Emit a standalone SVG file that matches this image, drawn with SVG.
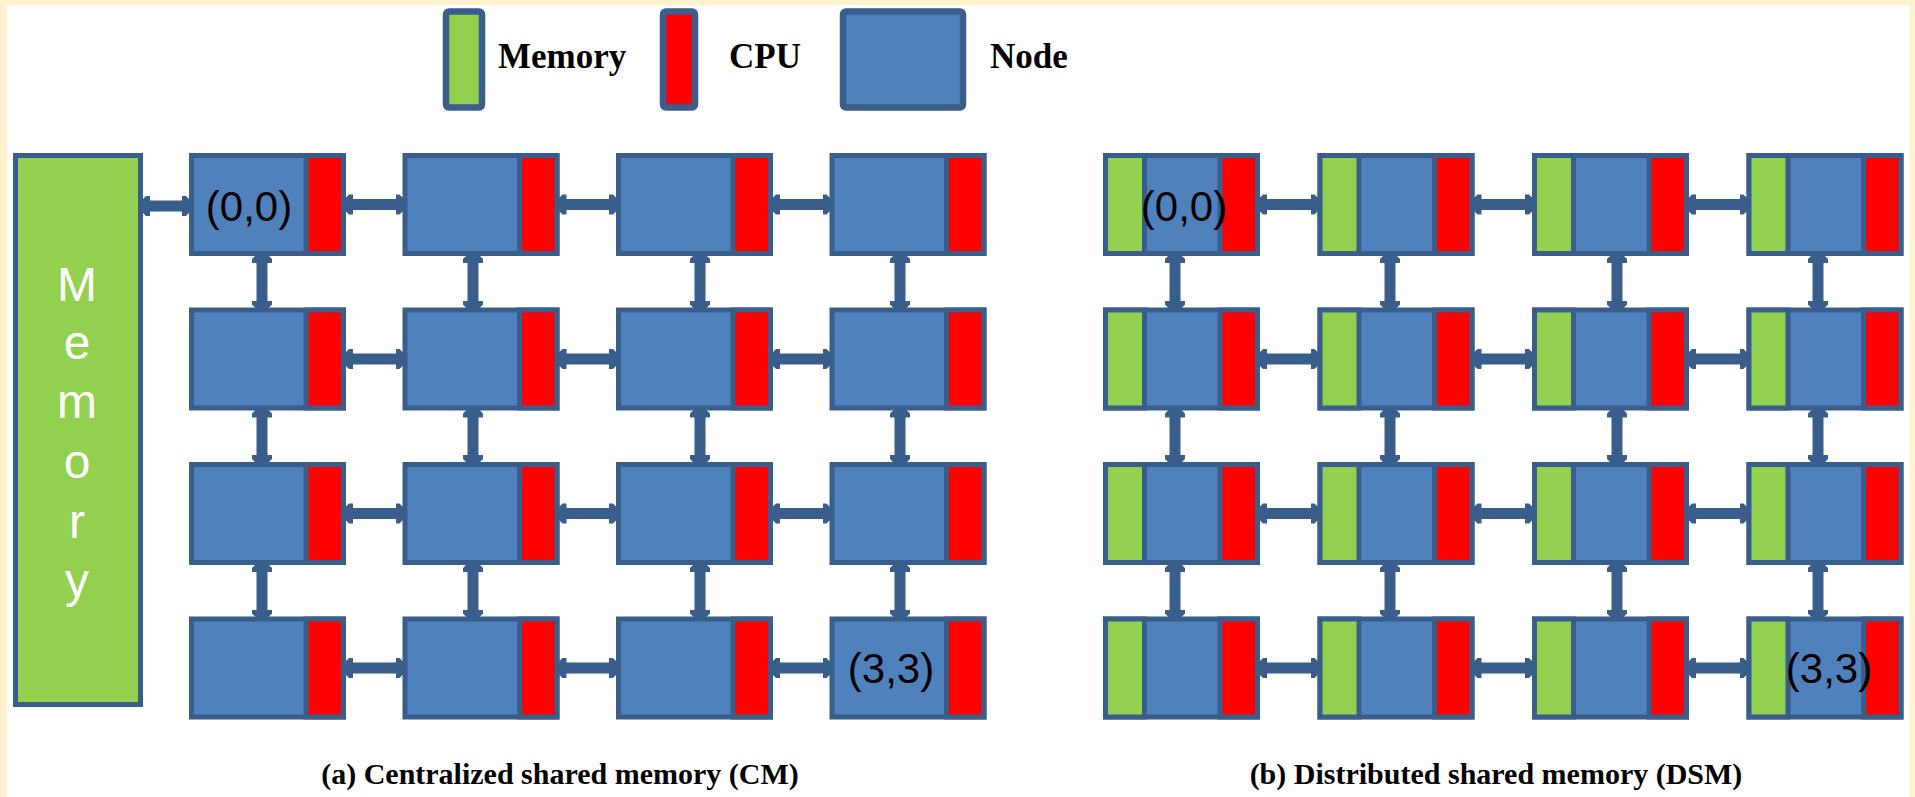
<svg xmlns="http://www.w3.org/2000/svg" width="1915" height="797" viewBox="0 0 1915 797">
<style>
.nd{fill:#4F81BD;stroke:#395E8C;stroke-width:5}
.cpu{fill:#FF0000;stroke:#395E8C;stroke-width:5}
.mem{fill:#92D050;stroke:#395E8C;stroke-width:5}
.lg{stroke-width:6.5}
.cn{stroke:#395E8C;stroke-width:11;fill:none;marker-start:url(#ah);marker-end:url(#ah)}
.lab{font-family:"Liberation Sans",Arial,sans-serif;font-size:42px;fill:#000;text-anchor:middle}
.leg{font-family:"Liberation Serif","Times New Roman",serif;font-size:35px;font-weight:bold;fill:#000}
.ttl{font-family:"Liberation Serif","Times New Roman",serif;font-size:30px;font-weight:bold;fill:#000;text-anchor:middle}
.ml{font-family:"Liberation Sans",Arial,sans-serif;font-size:48px;fill:#fff;text-anchor:middle}
</style>
<defs>
<marker id="ah" markerUnits="userSpaceOnUse" viewBox="0 0 10 24" refX="9" refY="12" markerWidth="10" markerHeight="24" orient="auto-start-reverse">
<path d="M0,2 L4,2 L10,8 L10,16 L4,22 L0,22 Z" fill="#395E8C"/>
</marker>
</defs>
<rect x="0" y="0" width="1915" height="797" fill="#FFF2CC"/>
<rect x="7" y="5" width="1903" height="792" fill="#FFFFFF"/>

<g id="legend">
<rect class="mem lg" x="446" y="11.5" width="36" height="96" rx="3"/>
<text class="leg" x="498" y="68">Memory</text>
<rect class="cpu lg" x="663" y="11.5" width="32" height="96" rx="3"/>
<text class="leg" x="729" y="68">CPU</text>
<rect class="nd lg" x="843" y="11.5" width="120" height="96" rx="3"/>
<text class="leg" x="990" y="68">Node</text>
</g>

<g id="connectors">
<line class="cn" x1="141" y1="206" x2="191" y2="206"/>
<!-- CM horizontal -->
<line class="cn" x1="344" y1="204.5" x2="404.5" y2="204.5"/>
<line class="cn" x1="557.5" y1="204.5" x2="618" y2="204.5"/>
<line class="cn" x1="771" y1="204.5" x2="831.5" y2="204.5"/>
<line class="cn" x1="344" y1="359" x2="404.5" y2="359"/>
<line class="cn" x1="557.5" y1="359" x2="618" y2="359"/>
<line class="cn" x1="771" y1="359" x2="831.5" y2="359"/>
<line class="cn" x1="344" y1="513.5" x2="404.5" y2="513.5"/>
<line class="cn" x1="557.5" y1="513.5" x2="618" y2="513.5"/>
<line class="cn" x1="771" y1="513.5" x2="831.5" y2="513.5"/>
<line class="cn" x1="344" y1="668" x2="404.5" y2="668"/>
<line class="cn" x1="557.5" y1="668" x2="618" y2="668"/>
<line class="cn" x1="771" y1="668" x2="831.5" y2="668"/>
<!-- CM vertical -->
<line class="cn" x1="262" y1="254" x2="262" y2="309.5"/>
<line class="cn" x1="262" y1="408.5" x2="262" y2="464"/>
<line class="cn" x1="262" y1="563" x2="262" y2="618.5"/>
<line class="cn" x1="473" y1="254" x2="473" y2="309.5"/>
<line class="cn" x1="473" y1="408.5" x2="473" y2="464"/>
<line class="cn" x1="473" y1="563" x2="473" y2="618.5"/>
<line class="cn" x1="700" y1="254" x2="700" y2="309.5"/>
<line class="cn" x1="700" y1="408.5" x2="700" y2="464"/>
<line class="cn" x1="700" y1="563" x2="700" y2="618.5"/>
<line class="cn" x1="900" y1="254" x2="900" y2="309.5"/>
<line class="cn" x1="900" y1="408.5" x2="900" y2="464"/>
<line class="cn" x1="900" y1="563" x2="900" y2="618.5"/>
<!-- DSM horizontal -->
<line class="cn" x1="1258" y1="204.5" x2="1319.5" y2="204.5"/>
<line class="cn" x1="1472.5" y1="204.5" x2="1534" y2="204.5"/>
<line class="cn" x1="1687" y1="204.5" x2="1748.5" y2="204.5"/>
<line class="cn" x1="1258" y1="359" x2="1319.5" y2="359"/>
<line class="cn" x1="1472.5" y1="359" x2="1534" y2="359"/>
<line class="cn" x1="1687" y1="359" x2="1748.5" y2="359"/>
<line class="cn" x1="1258" y1="513.5" x2="1319.5" y2="513.5"/>
<line class="cn" x1="1472.5" y1="513.5" x2="1534" y2="513.5"/>
<line class="cn" x1="1687" y1="513.5" x2="1748.5" y2="513.5"/>
<line class="cn" x1="1258" y1="668" x2="1319.5" y2="668"/>
<line class="cn" x1="1472.5" y1="668" x2="1534" y2="668"/>
<line class="cn" x1="1687" y1="668" x2="1748.5" y2="668"/>
<!-- DSM vertical -->
<line class="cn" x1="1175" y1="254" x2="1175" y2="309.5"/>
<line class="cn" x1="1175" y1="408.5" x2="1175" y2="464"/>
<line class="cn" x1="1175" y1="563" x2="1175" y2="618.5"/>
<line class="cn" x1="1390" y1="254" x2="1390" y2="309.5"/>
<line class="cn" x1="1390" y1="408.5" x2="1390" y2="464"/>
<line class="cn" x1="1390" y1="563" x2="1390" y2="618.5"/>
<line class="cn" x1="1617" y1="254" x2="1617" y2="309.5"/>
<line class="cn" x1="1617" y1="408.5" x2="1617" y2="464"/>
<line class="cn" x1="1617" y1="563" x2="1617" y2="618.5"/>
<line class="cn" x1="1818" y1="254" x2="1818" y2="309.5"/>
<line class="cn" x1="1818" y1="408.5" x2="1818" y2="464"/>
<line class="cn" x1="1818" y1="563" x2="1818" y2="618.5"/>
</g>

<g id="central-memory">
<rect class="mem" x="15.5" y="155.5" width="125" height="549"/>
<text class="ml" x="77" y="301">M</text>
<text class="ml" x="77" y="359">e</text>
<text class="ml" x="77" y="418">m</text>
<text class="ml" x="77" y="478">o</text>
<text class="ml" x="77" y="538">r</text>
<text class="ml" x="77" y="597">y</text>
</g>

<!-- CM nodes -->
<g id="cm-0-0"><rect class="nd" x="191.5" y="155.5" width="152" height="98"/><rect class="cpu" x="306" y="155.5" width="37.5" height="98"/><text class="lab" x="249" y="221">(0,0)</text></g>
<g id="cm-0-1"><rect class="nd" x="405" y="155.5" width="152" height="98"/><rect class="cpu" x="519.5" y="155.5" width="37.5" height="98"/></g>
<g id="cm-0-2"><rect class="nd" x="618.5" y="155.5" width="152" height="98"/><rect class="cpu" x="733" y="155.5" width="37.5" height="98"/></g>
<g id="cm-0-3"><rect class="nd" x="832" y="155.5" width="152" height="98"/><rect class="cpu" x="946.5" y="155.5" width="37.5" height="98"/></g>

<g id="cm-1-0"><rect class="nd" x="191.5" y="310" width="152" height="98"/><rect class="cpu" x="306" y="310" width="37.5" height="98"/></g>
<g id="cm-1-1"><rect class="nd" x="405" y="310" width="152" height="98"/><rect class="cpu" x="519.5" y="310" width="37.5" height="98"/></g>
<g id="cm-1-2"><rect class="nd" x="618.5" y="310" width="152" height="98"/><rect class="cpu" x="733" y="310" width="37.5" height="98"/></g>
<g id="cm-1-3"><rect class="nd" x="832" y="310" width="152" height="98"/><rect class="cpu" x="946.5" y="310" width="37.5" height="98"/></g>

<g id="cm-2-0"><rect class="nd" x="191.5" y="464.5" width="152" height="98"/><rect class="cpu" x="306" y="464.5" width="37.5" height="98"/></g>
<g id="cm-2-1"><rect class="nd" x="405" y="464.5" width="152" height="98"/><rect class="cpu" x="519.5" y="464.5" width="37.5" height="98"/></g>
<g id="cm-2-2"><rect class="nd" x="618.5" y="464.5" width="152" height="98"/><rect class="cpu" x="733" y="464.5" width="37.5" height="98"/></g>
<g id="cm-2-3"><rect class="nd" x="832" y="464.5" width="152" height="98"/><rect class="cpu" x="946.5" y="464.5" width="37.5" height="98"/></g>

<g id="cm-3-0"><rect class="nd" x="191.5" y="619" width="152" height="98"/><rect class="cpu" x="306" y="619" width="37.5" height="98"/></g>
<g id="cm-3-1"><rect class="nd" x="405" y="619" width="152" height="98"/><rect class="cpu" x="519.5" y="619" width="37.5" height="98"/></g>
<g id="cm-3-2"><rect class="nd" x="618.5" y="619" width="152" height="98"/><rect class="cpu" x="733" y="619" width="37.5" height="98"/></g>
<g id="cm-3-3"><rect class="nd" x="832" y="619" width="152" height="98"/><rect class="cpu" x="946.5" y="619" width="37.5" height="98"/><text class="lab" x="891" y="683">(3,3)</text></g>

<!-- DSM nodes -->
<g id="dsm-0-0"><rect class="nd" x="1105.5" y="155.5" width="152" height="98"/><rect class="mem" x="1105.5" y="155.5" width="39" height="98"/><rect class="cpu" x="1220" y="155.5" width="37.5" height="98"/><text class="lab" x="1184" y="221">(0,0)</text></g>
<g id="dsm-0-1"><rect class="nd" x="1320" y="155.5" width="152" height="98"/><rect class="mem" x="1320" y="155.5" width="39" height="98"/><rect class="cpu" x="1434.5" y="155.5" width="37.5" height="98"/></g>
<g id="dsm-0-2"><rect class="nd" x="1534.5" y="155.5" width="152" height="98"/><rect class="mem" x="1534.5" y="155.5" width="39" height="98"/><rect class="cpu" x="1649" y="155.5" width="37.5" height="98"/></g>
<g id="dsm-0-3"><rect class="nd" x="1749" y="155.5" width="152" height="98"/><rect class="mem" x="1749" y="155.5" width="39" height="98"/><rect class="cpu" x="1863.5" y="155.5" width="37.5" height="98"/></g>

<g id="dsm-1-0"><rect class="nd" x="1105.5" y="310" width="152" height="98"/><rect class="mem" x="1105.5" y="310" width="39" height="98"/><rect class="cpu" x="1220" y="310" width="37.5" height="98"/></g>
<g id="dsm-1-1"><rect class="nd" x="1320" y="310" width="152" height="98"/><rect class="mem" x="1320" y="310" width="39" height="98"/><rect class="cpu" x="1434.5" y="310" width="37.5" height="98"/></g>
<g id="dsm-1-2"><rect class="nd" x="1534.5" y="310" width="152" height="98"/><rect class="mem" x="1534.5" y="310" width="39" height="98"/><rect class="cpu" x="1649" y="310" width="37.5" height="98"/></g>
<g id="dsm-1-3"><rect class="nd" x="1749" y="310" width="152" height="98"/><rect class="mem" x="1749" y="310" width="39" height="98"/><rect class="cpu" x="1863.5" y="310" width="37.5" height="98"/></g>

<g id="dsm-2-0"><rect class="nd" x="1105.5" y="464.5" width="152" height="98"/><rect class="mem" x="1105.5" y="464.5" width="39" height="98"/><rect class="cpu" x="1220" y="464.5" width="37.5" height="98"/></g>
<g id="dsm-2-1"><rect class="nd" x="1320" y="464.5" width="152" height="98"/><rect class="mem" x="1320" y="464.5" width="39" height="98"/><rect class="cpu" x="1434.5" y="464.5" width="37.5" height="98"/></g>
<g id="dsm-2-2"><rect class="nd" x="1534.5" y="464.5" width="152" height="98"/><rect class="mem" x="1534.5" y="464.5" width="39" height="98"/><rect class="cpu" x="1649" y="464.5" width="37.5" height="98"/></g>
<g id="dsm-2-3"><rect class="nd" x="1749" y="464.5" width="152" height="98"/><rect class="mem" x="1749" y="464.5" width="39" height="98"/><rect class="cpu" x="1863.5" y="464.5" width="37.5" height="98"/></g>

<g id="dsm-3-0"><rect class="nd" x="1105.5" y="619" width="152" height="98"/><rect class="mem" x="1105.5" y="619" width="39" height="98"/><rect class="cpu" x="1220" y="619" width="37.5" height="98"/></g>
<g id="dsm-3-1"><rect class="nd" x="1320" y="619" width="152" height="98"/><rect class="mem" x="1320" y="619" width="39" height="98"/><rect class="cpu" x="1434.5" y="619" width="37.5" height="98"/></g>
<g id="dsm-3-2"><rect class="nd" x="1534.5" y="619" width="152" height="98"/><rect class="mem" x="1534.5" y="619" width="39" height="98"/><rect class="cpu" x="1649" y="619" width="37.5" height="98"/></g>
<g id="dsm-3-3"><rect class="nd" x="1749" y="619" width="152" height="98"/><rect class="mem" x="1749" y="619" width="39" height="98"/><rect class="cpu" x="1863.5" y="619" width="37.5" height="98"/><text class="lab" x="1829" y="683">(3,3)</text></g>

<g id="captions">
<text class="ttl" x="560" y="784">(a) Centralized shared memory (CM)</text>
<text class="ttl" x="1496" y="784">(b) Distributed shared memory (DSM)</text>
</g>
</svg>
